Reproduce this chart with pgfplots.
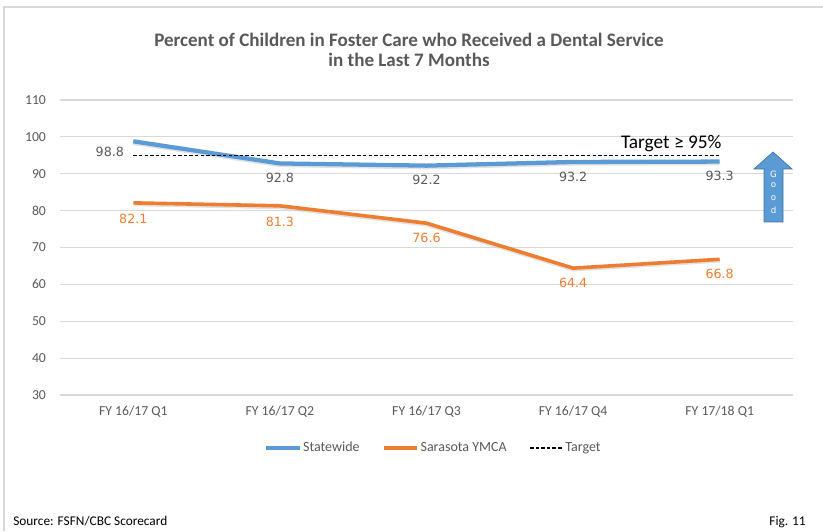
\documentclass[border=0pt]{standalone}
\usepackage{pgfplots}
\pgfplotsset{compat=1.18}
\usepackage{fontspec}
\setmainfont{Carlito}
\newfontfamily\dv{DejaVu Sans}
\definecolor{stateblue}{HTML}{5B9BD5}
\definecolor{ymcaorange}{HTML}{ED7D31}
\definecolor{txtgray}{HTML}{595959}
\definecolor{gridgray}{HTML}{D9D9D9}
\definecolor{arrowedge}{HTML}{41719C}

% one pixel of the layout grid
\newcommand{\px}{0.75pt}

\begin{document}
\begin{tikzpicture}[x=\px,y=\px]
% canvas and frame
\path[use as bounding box] (0,0) rectangle (823,531);
\draw[gridgray, line width=1.2pt] (4,0) -- (4,524) -- (823,524);

% title
\node[font=\bfseries\fontsize{14.3}{15}\selectfont, text=txtgray, align=center]
  at (409,481) {Percent of Children in Foster Care who Received a Dental Service\\in the Last 7 Months};

\begin{axis}[
  at={(60*\px,136*\px)}, anchor=south west,
  scale only axis,
  width=733*\px, height=295*\px,
  xmin=-0.5, xmax=4.5,
  ymin=30, ymax=110,
  ytick={30,40,...,110},
  xtick={0,1,2,3,4},
  xticklabels={FY 16/17 Q1, FY 16/17 Q2, FY 16/17 Q3, FY 16/17 Q4, FY 17/18 Q1},
  ymajorgrids,
  grid style={gridgray, line width=0.8pt},
  axis line style={draw=none},
  major tick length=0pt,
  /pgf/number format/assume math mode=true,
  tick label style={font=\fontsize{10.3}{12}\selectfont, text=txtgray},
  yticklabel style={xshift=-7pt},
  xticklabel style={yshift=-5pt},
  legend columns=3,
  legend style={draw=none, fill=none, at={(0.509,-0.18)}, anchor=center,
    font=\fontsize{10.5}{12}\selectfont, text=txtgray,
    nodes={inner xsep=1pt},
    /tikz/every even column/.append style={column sep=16pt}},
  legend image code/.code={\draw[#1] (0pt,0pt) -- (25pt,0pt);},
  clip=false,
]
% soft shadows under the two series
\addplot[forget plot, black!25, line width=3.2pt, transform canvas={yshift=-1.2pt}, opacity=0.45]
  coordinates {(0,98.8) (1,92.8) (2,92.2) (3,93.2) (4,93.3)};
\addplot[forget plot, black!25, line width=2.7pt, transform canvas={yshift=-1.2pt}, opacity=0.45]
  coordinates {(0,82.1) (1,81.3) (2,76.6) (3,64.4) (4,66.8)};

\addplot[stateblue, line width=3.2pt, line join=round]
  coordinates {(0,98.8) (1,92.8) (2,92.2) (3,93.2) (4,93.3)};
\addlegendentry{Statewide}
\addplot[ymcaorange, line width=2.7pt, line join=round]
  coordinates {(0,82.1) (1,81.3) (2,76.6) (3,64.4) (4,66.8)};
\addlegendentry{Sarasota YMCA}
\addplot[black, line width=1.1pt, dash pattern=on 2.6pt off 1.6pt]
  coordinates {(0,95) (4,95)};
\addlegendentry{Target}

% value labels
\begin{scope}[every node/.style={font=\dv\fontsize{9.5}{11}\selectfont}]
\node[text=txtgray, anchor=east] at ([xshift=-3.5pt,yshift=-8pt]axis cs:0,98.8) {98.8};
\node[text=txtgray] at ([yshift=-11pt]axis cs:1,92.8) {92.8};
\node[text=txtgray] at ([yshift=-11pt]axis cs:2,92.2) {92.2};
\node[text=txtgray] at ([yshift=-11pt]axis cs:3,93.2) {93.2};
\node[text=txtgray] at ([yshift=-11pt]axis cs:4,93.3) {93.3};
\node[text=ymcaorange] at ([yshift=-12pt]axis cs:0,82.1) {82.1};
\node[text=ymcaorange] at ([yshift=-12pt]axis cs:1,81.3) {81.3};
\node[text=ymcaorange] at ([yshift=-11pt]axis cs:2,76.6) {76.6};
\node[text=ymcaorange] at ([yshift=-11pt]axis cs:3,64.4) {64.4};
\node[text=ymcaorange] at ([yshift=-11pt]axis cs:4,66.8) {66.8};
\end{scope}
\node[anchor=south east, font=\fontsize{14.5}{16}\selectfont, text=black, inner sep=0pt]
  at ([xshift=1.5pt,yshift=2.5pt]axis cs:4,95) {Target ≥ 95\%};
\end{axis}

% "Good" direction arrow
\filldraw[fill=stateblue, draw=arrowedge, line width=0.5pt]
  (764,309) -- (783,309) -- (783,362) -- (792,362) -- (773,379) -- (754,362) -- (764,362) -- cycle;
\foreach \ch/\yy in {G/357, o/346, o/333, d/321}
  \node[text=white, font=\dv\fontsize{6.5}{7}\selectfont, inner sep=0pt] at (773.5,\yy) {\ch};

% footer
\node[anchor=base west, font=\fontsize{10}{12}\selectfont, inner sep=0pt] at (13,6) {Source: FSFN/CBC Scorecard};
\node[anchor=base east, font=\fontsize{10}{12}\selectfont, inner sep=0pt] at (806,6) {Fig. 11};
\end{tikzpicture}
\end{document}
